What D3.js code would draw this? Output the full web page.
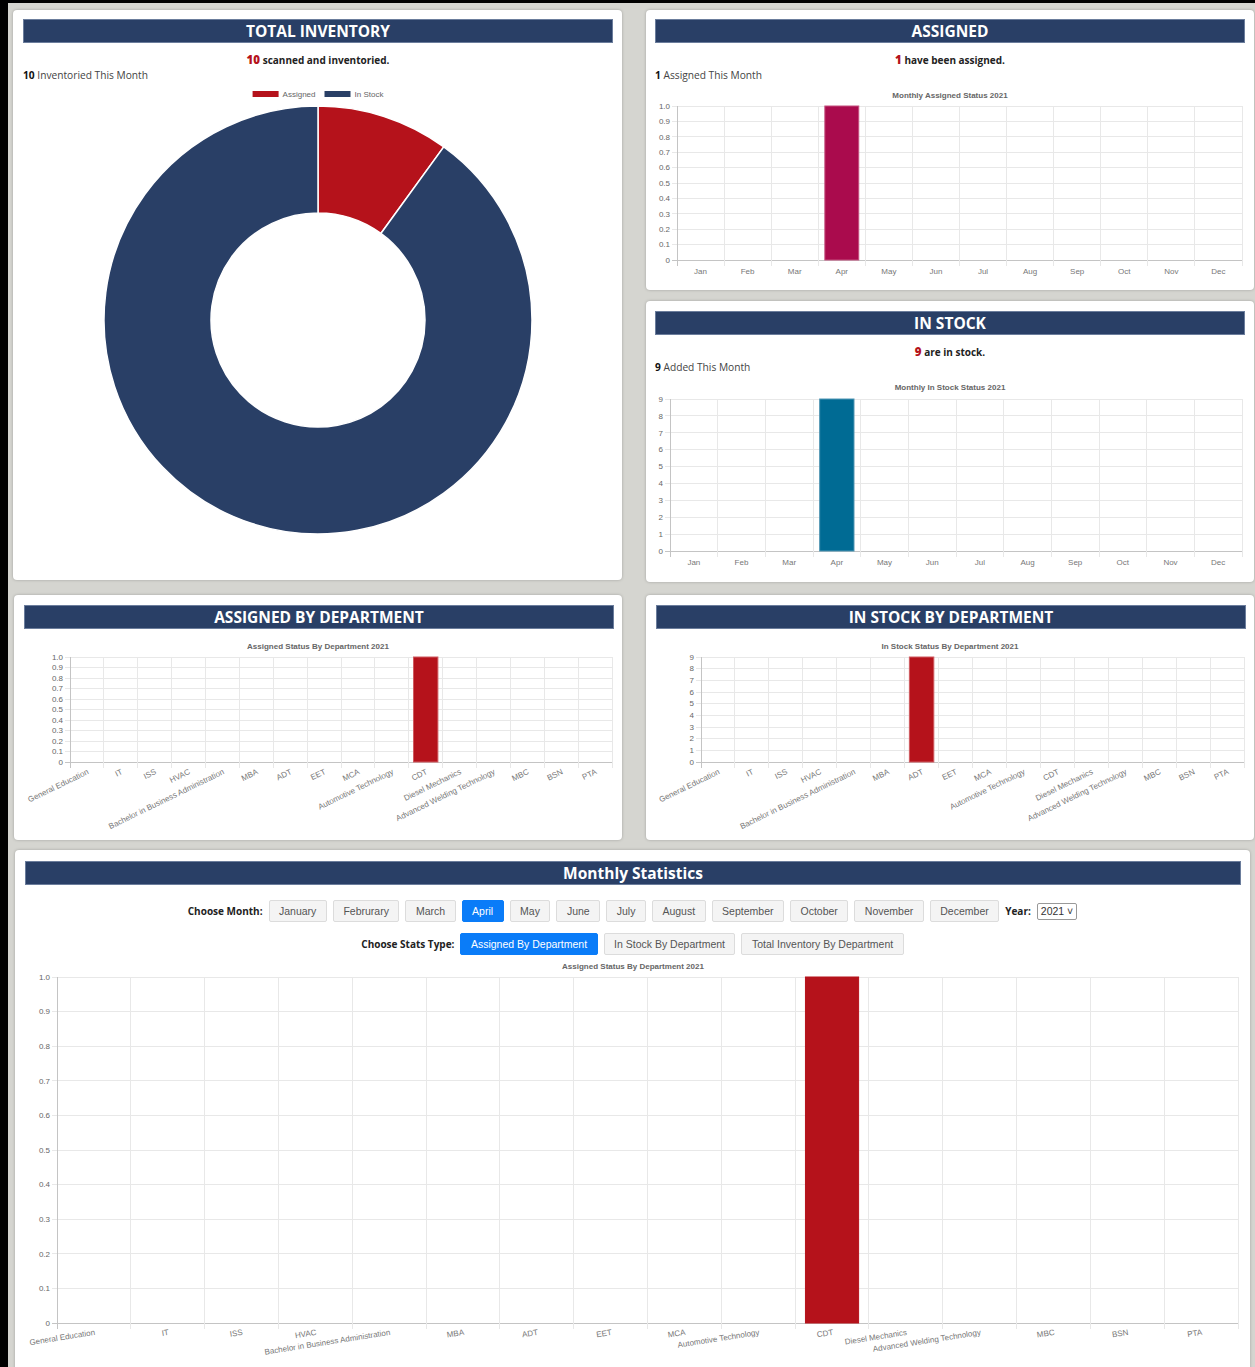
<!DOCTYPE html>
<html>
<head>
<meta charset="utf-8">
<script src="https://cdn.jsdelivr.net/npm/d3@7/dist/d3.min.js"></script>
<style>
  html, body { margin: 0; padding: 0; }
  body { width: 1255px; height: 1367px; overflow: hidden; background: #d5d5d0; position: relative; font-family: "Open Sans", sans-serif; }
  .frameL { position: absolute; left: 0; top: 0; width: 8px; height: 1367px; background: #000; }
  .frameT { position: absolute; left: 0; top: 0; width: 1255px; height: 3px; background: #000; }
  .panel { position: absolute; background: #fff; border-radius: 4px; box-shadow: 0 0 3px rgba(0,0,0,0.25); }
  .hdr { position: absolute; background: #293f66; border: 1px solid #6b7d9c; box-sizing: border-box; color: #fff; font-weight: 700; font-size: 15.5px; text-align: center; line-height: 22px; }
  .lead { position: absolute; font-size: 10px; font-weight: 700; color: #222; transform: translateX(-50%); white-space: nowrap; }
  .lead b { color: #b5121b; font-size: 11.5px; }
  .sub { position: absolute; font-size: 10.2px; color: #444; white-space: nowrap; }
  .sub b { color: #111; }
  .row { position: absolute; left: 15px; width: 1235px; display: flex; justify-content: center; align-items: center; gap: 6px; font-family: "Liberation Sans", Arial, sans-serif; }
  .row .lbl { font-family: "Open Sans", sans-serif; font-weight: 700; font-size: 10px; color: #222; }
  .btn { height: 22px; box-sizing: border-box; padding: 0 9.5px; border: 1px solid #dcdcdc; background: #f4f4f4; border-radius: 2px; font-size: 10.5px; color: #555; line-height: 20px; }
  .btn.on { background: #0a7cf8; border-color: #0a7cf8; color: #fff; }
  .sel { height: 17px; box-sizing: border-box; border: 1px solid #999; border-radius: 2px; font-size: 10.5px; color: #333; padding: 0 3px; line-height: 15px; background: #fff; }
  svg#main { position: absolute; left: 0; top: 0; }
</style>
</head>
<body>
<div class="frameT"></div>
<div class="frameL"></div>
<div id="panels"></div>
<svg id="main" width="1255" height="1367"></svg>
<script>
// ---------- DATA ----------
const months = ["Jan","Feb","Mar","Apr","May","Jun","Jul","Aug","Sep","Oct","Nov","Dec"];
const assignedMonthly = [0,0,0,1,0,0,0,0,0,0,0,0];
const inStockMonthly  = [0,0,0,9,0,0,0,0,0,0,0,0];
const departments = ["General Education","IT","ISS","HVAC","Bachelor in Business Administration","MBA","ADT","EET","MCA","Automotive Technology","CDT","Diesel Mechanics","Advanced Welding Technology","MBC","BSN","PTA"];
const assignedByDept = [0,0,0,0,0,0,0,0,0,0,1,0,0,0,0,0];
const inStockByDept  = [0,0,0,0,0,0,9,0,0,0,0,0,0,0,0,0];
const inventoryLabels = ["Assigned","In Stock"];
const inventoryValues = [1,9];
const monthButtons = ["January","Februrary","March","April","May","June","July","August","September","October","November","December"];
const statsTypes = ["Assigned By Department","In Stock By Department","Total Inventory By Department"];
const selectedMonth = "April";
const selectedType = "Assigned By Department";
const year = "2021";

// ---------- PANELS (HTML) ----------
const panels = d3.select("#panels");
const panelBoxes = [
  {l:13,t:10,w:609,h:570},{l:646,t:10,w:608,h:280},{l:646,t:301,w:608,h:281},
  {l:14,t:595,w:608,h:245},{l:646,t:595,w:608,h:245},{l:15,t:850,w:1235,h:540}
];
panelBoxes.forEach(p => panels.append("div").attr("class","panel")
  .style("left",p.l+"px").style("top",p.t+"px").style("width",p.w+"px").style("height",p.h+"px"));
const headers = [
  {txt:"TOTAL INVENTORY",l:23,t:19,w:590},{txt:"ASSIGNED",l:655,t:19,w:590},
  {txt:"IN STOCK",l:655,t:311,w:590},{txt:"ASSIGNED BY DEPARTMENT",l:24,t:605,w:590},
  {txt:"IN STOCK BY DEPARTMENT",l:656,t:605,w:590},{txt:"Monthly Statistics",l:25,t:861,w:1216}
];
headers.forEach(h => panels.append("div").attr("class","hdr").text(h.txt)
  .style("left",h.l+"px").style("top",h.t+"px").style("width",h.w+"px").style("height","24px"));

const total = d3.sum(inventoryValues);
const assignedTotal = d3.sum(assignedMonthly);
const stockTotal = d3.sum(inStockMonthly);
function lead(num, rest, x, y){
  const d = panels.append("div").attr("class","lead").style("left",x+"px").style("top",y+"px");
  d.append("b").text(num); d.append("span").text(" "+rest);
}
function sub(num, rest, x, y){
  const d = panels.append("div").attr("class","sub").style("left",x+"px").style("top",y+"px");
  d.append("b").text(num); d.append("span").text(" "+rest);
}
lead(total, "scanned and inventoried.", 318, 52);
sub(total, "Inventoried This Month", 23, 68);
lead(assignedTotal, "have been assigned.", 950, 52);
sub(assignedTotal, "Assigned This Month", 655, 68);
lead(stockTotal, "are in stock.", 950, 344);
sub(stockTotal, "Added This Month", 655, 360);

// buttons
const row1 = panels.append("div").attr("class","row").style("top","900px").style("height","22px");
row1.append("span").attr("class","lbl").text("Choose Month:");
monthButtons.forEach(m => row1.append("span").attr("class","btn"+(m===selectedMonth?" on":"")).text(m));
row1.append("span").attr("class","lbl").text("Year:");
row1.append("span").attr("class","sel").text(year+" \u02C5");
const row2 = panels.append("div").attr("class","row").style("top","933px").style("height","22px");
row2.append("span").attr("class","lbl").text("Choose Stats Type:");
statsTypes.forEach(s => row2.append("span").attr("class","btn"+(s===selectedType?" on":"")).text(s));

// ---------- CHARTS (SVG) ----------
const svg = d3.select("#main");
const FONT = "'Liberation Sans', Arial, sans-serif";

// Donut
(function(){
  const cx = 318, cy = 320, R = 214, r = 107;
  const colors = d3.scaleOrdinal().domain(inventoryLabels).range(["#b5121b","#293f66"]);
  const pie = d3.pie().sort(null).value(d => d.v);
  const arc = d3.arc().innerRadius(r).outerRadius(R);
  const data = inventoryLabels.map((l,i) => ({l, v: inventoryValues[i]}));
  const g = svg.append("g").attr("transform",`translate(${cx},${cy})`);
  g.selectAll("path").data(pie(data)).join("path")
    .attr("d", arc).attr("fill", d => colors(d.data.l))
    .attr("stroke","#fff").attr("stroke-width",1.5);
  // legend
  const lg = svg.append("g").attr("font-family",FONT).attr("font-size",8).attr("fill","#666");
  const items = [];
  data.forEach(d => {
    const it = lg.append("g");
    it.append("rect").attr("width",26).attr("height",6).attr("fill",colors(d.l));
    const t = it.append("text").attr("x",30).attr("y",6).text(d.l);
    const w = 30 + t.node().getComputedTextLength();
    items.push({it, w});
  });
  const totalW = d3.sum(items, d => d.w) + 9*(items.length-1);
  let x = cx - totalW/2;
  items.forEach(o => { o.it.attr("transform",`translate(${x},91)`); x += o.w + 9; });
})();

function barChart(o){
  const g = svg.append("g").attr("font-family",FONT);
  const x = d3.scaleBand().domain(o.cats).range([o.x0,o.x1]);
  const y = d3.scaleLinear().domain([0,o.max]).range([o.yb,o.yt]);
  const ticks = y.ticks(10);
  const grid = "#e8e8e8", axis = "#c4c4c4";
  // title
  g.append("text").attr("x",o.titleX).attr("y",o.titleY).attr("text-anchor","middle")
    .attr("dy","0.35em").attr("font-size",o.fs).attr("font-weight","bold").attr("fill","#666").text(o.title);
  // horizontal grid + y ticks
  g.selectAll(".hg").data(ticks).join("line")
    .attr("x1",o.x0-5).attr("x2",o.x1).attr("y1",d=>y(d)).attr("y2",d=>y(d))
    .attr("stroke", d => d===0 ? axis : grid).attr("stroke-width",1).attr("shape-rendering","crispEdges");
  g.selectAll(".yl").data(ticks).join("text")
    .attr("x",o.x0-7).attr("y",d=>y(d)).attr("dy","0.35em").attr("text-anchor","end")
    .attr("font-size",o.fs).attr("fill","#666")
    .text(d => d===0 ? "0" : (o.max<=1 ? d.toFixed(1) : d3.format("d")(d)));
  // vertical grid
  const bounds = d3.range(o.cats.length+1).map(i => o.x0 + i*x.step());
  g.selectAll(".vg").data(bounds).join("line")
    .attr("x1",d=>d).attr("x2",d=>d).attr("y1",o.yt).attr("y2",o.yb+6)
    .attr("stroke",(d,i)=> i===0 ? axis : grid).attr("stroke-width",1).attr("shape-rendering","crispEdges");
  // bars
  const bw = x.bandwidth()*0.72;
  g.selectAll(".bar").data(o.cats.map((c,i)=>({c,v:o.vals[i]})).filter(d=>d.v>0)).join("rect")
    .attr("x",d => x(d.c) + (x.bandwidth()-bw)/2).attr("width",bw)
    .attr("y",d => y(d.v)).attr("height",d => y(0)-y(d.v))
    .attr("fill",o.color).attr("stroke",o.stroke).attr("stroke-width",1);
  // x labels
  const xl = g.selectAll(".xl").data(o.cats).join("text")
    .attr("font-size",o.fs).attr("fill","#777").text(d=>d);
  if (o.rot){
    xl.attr("text-anchor","end").attr("dy","0.35em")
      .attr("transform", d => `translate(${x(d)+x.bandwidth()/2+1},${o.yb+o.ldy}) rotate(${o.rot})`);
  } else {
    xl.attr("text-anchor","middle").attr("dy","0.35em")
      .attr("x", d => x(d)+x.bandwidth()/2).attr("y", o.yb+o.ldy);
  }
}

barChart({cats:months, vals:assignedMonthly, x0:677, x1:1242, yt:106, yb:260, max:1,
  color:"#aa0b4d", stroke:"#c4517f", title:"Monthly Assigned Status 2021", titleX:950, titleY:95, fs:8, ldy:11});
barChart({cats:months, vals:inStockMonthly, x0:670, x1:1242, yt:399, yb:551, max:9,
  color:"#006b94", stroke:"#4f95b3", title:"Monthly In Stock Status 2021", titleX:950, titleY:387, fs:8, ldy:11});
barChart({cats:departments, vals:assignedByDept, x0:70, x1:612, yt:657, yb:762, max:1,
  color:"#b5121b", stroke:"#cf5a60", title:"Assigned Status By Department "+year, titleX:318, titleY:646, fs:8, ldy:9, rot:-26});
barChart({cats:departments, vals:inStockByDept, x0:701, x1:1244, yt:657, yb:762, max:9,
  color:"#b5121b", stroke:"#cf5a60", title:"In Stock Status By Department "+year, titleX:950, titleY:646, fs:8, ldy:9, rot:-26});
barChart({cats:departments, vals:assignedByDept, x0:57, x1:1238, yt:977, yb:1323, max:1,
  color:"#b5121b", stroke:"#b5121b", title:"Assigned Status By Department "+year, titleX:633, titleY:966, fs:8, ldy:9, rot:-9});
</script>
</body>
</html>
